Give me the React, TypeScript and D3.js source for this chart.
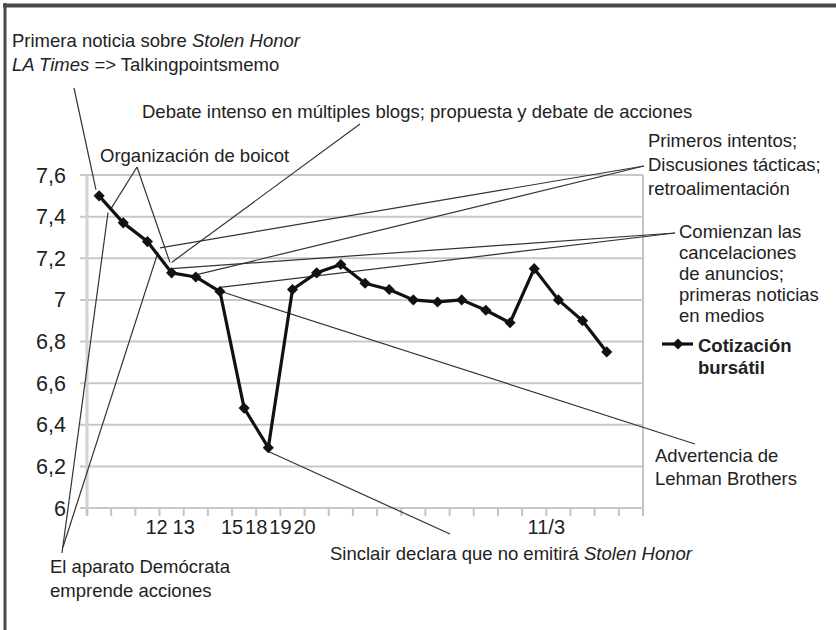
import React, { useEffect, useRef } from 'react'
import * as d3 from 'd3'

// dias de cotizacion (oct - nov 2004); la ultima categoria queda sin dato
const dias = ['8/10', '11/10', '12/10', '13/10', '14/10', '15/10', '18/10', '19/10', '20/10', '21/10', '22/10', '25/10',
    '26/10', '27/10', '28/10', '29/10', '1/11', '2/11', '3/11', '4/11', '5/11', '8/11', '9/11']
// solo algunas fechas llevan rotulo en el eje
const etiquetasX = ['', '', '12', '13', '', '15', '18', '19', '20', '', '', '', '', '', '', '', '', '', '11/3', '', '', '', '']
const cotizacion = [7.5, 7.37, 7.28, 7.13, 7.11, 7.04, 6.48, 6.29, 7.05, 7.13, 7.17, 7.08, 7.05, 7.0, 6.99, 7.0,
    6.95, 6.89, 7.15, 7.0, 6.9, 6.75]
const ticksY = [6, 6.2, 6.4, 6.6, 6.8, 7, 7.2, 7.4, 7.6]
const serie = 'Cotización bursátil'

type Trozo = { t: string, it?: boolean }

// textos de las anotaciones (cada linea es una lista de trozos, algunos en cursiva)
const notas: { lineas: Trozo[][], x: number, y: number, salto: number, anchor?: string }[] = [
    { lineas: [[{ t: 'Primera noticia sobre ' }, { t: 'Stolen Honor', it: true }], [{ t: 'LA Times', it: true }, { t: ' => Talkingpointsmemo' }]], x: 12, y: 47, salto: 24 },
    { lineas: [[{ t: 'Debate intenso en múltiples blogs; propuesta y debate de acciones' }]], x: 142, y: 118, salto: 0 },
    { lineas: [[{ t: 'Organización de boicot' }]], x: 100, y: 162, salto: 0 },
    { lineas: [[{ t: 'Primeros intentos;' }], [{ t: 'Discusiones tácticas;' }], [{ t: 'retroalimentación' }]], x: 648, y: 147, salto: 24 },
    { lineas: [[{ t: 'Comienzan las' }], [{ t: 'cancelaciones' }], [{ t: 'de anuncios;' }], [{ t: 'primeras noticias' }], [{ t: 'en medios' }]], x: 679, y: 238, salto: 21 },
    { lineas: [[{ t: 'Advertencia de' }], [{ t: 'Lehman Brothers' }]], x: 655, y: 462, salto: 23 },
    { lineas: [[{ t: 'Sinclair declara que no emitirá ' }, { t: 'Stolen Honor', it: true }]], x: 692, y: 560, salto: 0, anchor: 'end' },
    { lineas: [[{ t: 'El aparato Demócrata' }], [{ t: 'emprende acciones' }]], x: 50, y: 573, salto: 24 },
]

// lineas guia: desde el texto (px) hasta un punto de la serie [indice, valor]
const guias: { desde: [number, number], a: [number, number] }[] = [
    { desde: [74, 88], a: [-0.13, 7.53] },
    { desde: [137, 167], a: [0.45, 7.43] },
    { desde: [137, 167], a: [2.93, 7.18] },
    { desde: [360, 124], a: [3.0, 7.18] },
    { desde: [644, 166], a: [2.52, 7.25] },
    { desde: [644, 166], a: [4.0, 7.12] },
    { desde: [675, 233], a: [3.0, 7.15] },
    { desde: [675, 233], a: [5.0, 7.06] },
    { desde: [695, 444], a: [5.05, 7.04] },
    { desde: [450, 534], a: [7.03, 6.27] },
    { desde: [62, 553], a: [0.37, 7.42] },
    { desde: [63, 547], a: [2.44, 7.23] },
]

const fuente = '"Liberation Sans", Arial, Helvetica, sans-serif'

const App = () => {
    const ref = useRef<SVGSVGElement>(null)

    useEffect(() => {
        const svg = d3.select(ref.current)
        svg.selectAll('*').remove()

        const width = 836, height = 630
        const left = 87, right = 643, top = 175, bottom = 508

        const x = d3.scaleBand().domain(dias).range([left, right])
        // posicion continua por indice (centro de la banda)
        const xi = d3.scaleLinear().domain([-0.5, dias.length - 0.5]).range([left, right])
        const y = d3.scaleLinear().domain([6, 7.6]).range([bottom, top])

        svg.append('rect').attr('width', width).attr('height', height).attr('fill', 'white')

        // marco exterior (solo arriba e izquierda se ven)
        svg.append('line').attr('x1', 3).attr('x2', width).attr('y1', 5.5).attr('y2', 5.5)
            .attr('stroke', '#4a4a4a').attr('stroke-width', 4)
        svg.append('line').attr('x1', 5).attr('x2', 5).attr('y1', 3).attr('y2', height)
            .attr('stroke', '#4a4a4a').attr('stroke-width', 3)

        // rejilla horizontal
        svg.append('g')
            .selectAll('line')
            .data(ticksY)
            .join('line')
            .attr('x1', left - 7)
            .attr('x2', right)
            .attr('y1', d => y(d))
            .attr('y2', d => y(d))
            .attr('stroke', '#c8c8c8')
            .attr('stroke-width', 2)

        // bordes verticales del area
        svg.append('line').attr('x1', left).attr('x2', left).attr('y1', top).attr('y2', bottom + 8)
            .attr('stroke', '#d2d2d2').attr('stroke-width', 3)
        svg.append('line').attr('x1', right).attr('x2', right).attr('y1', top).attr('y2', bottom + 8)
            .attr('stroke', '#c4c4c4').attr('stroke-width', 2)

        // marcas del eje x en los limites de banda
        svg.append('g')
            .selectAll('line')
            .data(dias)
            .join('line')
            .attr('x1', d => x(d) as number)
            .attr('x2', d => x(d) as number)
            .attr('y1', bottom)
            .attr('y2', bottom + 8)
            .attr('stroke', '#c4c4c4')
            .attr('stroke-width', 2)

        // rotulos eje y
        svg.append('g')
            .selectAll('text')
            .data(ticksY)
            .join('text')
            .attr('x', 66)
            .attr('y', d => y(d) + 7.5)
            .attr('text-anchor', 'end')
            .attr('font-family', fuente)
            .attr('font-size', 21.5)
            .attr('fill', '#222')
            .text(d => String(d).replace('.', ','))

        // rotulos eje x (desplazados media banda, como en el original)
        svg.append('g')
            .selectAll('text')
            .data(etiquetasX.map((t, i) => ({ t, i })).filter(d => d.t !== ''))
            .join('text')
            .attr('x', d => xi(d.i + 0.5) + (d.t === '12' ? -3 : 0))
            .attr('y', 534)
            .attr('text-anchor', 'middle')
            .attr('font-family', fuente)
            .attr('font-size', 20)
            .attr('fill', '#222')
            .text(d => d.t)

        // lineas guia de las anotaciones
        svg.append('g')
            .selectAll('line')
            .data(guias)
            .join('line')
            .attr('x1', d => d.desde[0])
            .attr('y1', d => d.desde[1])
            .attr('x2', d => xi(d.a[0]))
            .attr('y2', d => y(d.a[1]))
            .attr('stroke', '#333')
            .attr('stroke-width', 1.2)

        // serie
        const linea = d3.line<number>()
            .x((_, i) => xi(i))
            .y(d => y(d))
        svg.append('path')
            .datum(cotizacion)
            .attr('d', linea)
            .attr('fill', 'none')
            .attr('stroke', '#111')
            .attr('stroke-width', 3.2)
            .attr('stroke-linejoin', 'round')

        const rombo = d3.symbol(d3.symbolSquare, 62)
        svg.append('g')
            .selectAll('path')
            .data(cotizacion)
            .join('path')
            .attr('d', rombo)
            .attr('transform', (d, i) => `translate(${xi(i)},${y(d)}) rotate(45)`)
            .attr('fill', '#111')

        // leyenda
        svg.append('line').attr('x1', 662).attr('x2', 693).attr('y1', 344).attr('y2', 344)
            .attr('stroke', '#111').attr('stroke-width', 3.2)
        svg.append('path').attr('d', rombo).attr('transform', 'translate(678,344) rotate(45)').attr('fill', '#111')
        const leyenda = svg.append('text')
            .attr('font-family', fuente)
            .attr('font-size', 18.5)
            .attr('font-weight', 'bold')
            .attr('fill', '#222')
        serie.split(' ').forEach((w, i) => {
            leyenda.append('tspan').attr('x', 698).attr('y', 352 + i * 22).text(w)
        })

        // textos de anotaciones
        notas.forEach(n => {
            n.lineas.forEach((trozos, k) => {
                const t = svg.append('text')
                    .attr('x', n.x)
                    .attr('y', n.y + k * n.salto)
                    .attr('text-anchor', n.anchor || 'start')
                    .attr('font-family', fuente)
                    .attr('font-size', 18.5)
                    .attr('fill', '#222')
                trozos.forEach(p => {
                    t.append('tspan')
                        .attr('font-style', p.it ? 'italic' : 'normal')
                        .text(p.t)
                })
            })
        })
    }, [])

    return (
        <svg ref={ref} width={836} height={630}
            style={{ position: 'absolute', left: 0, top: 0, display: 'block' }} />
    )
}

export default App
